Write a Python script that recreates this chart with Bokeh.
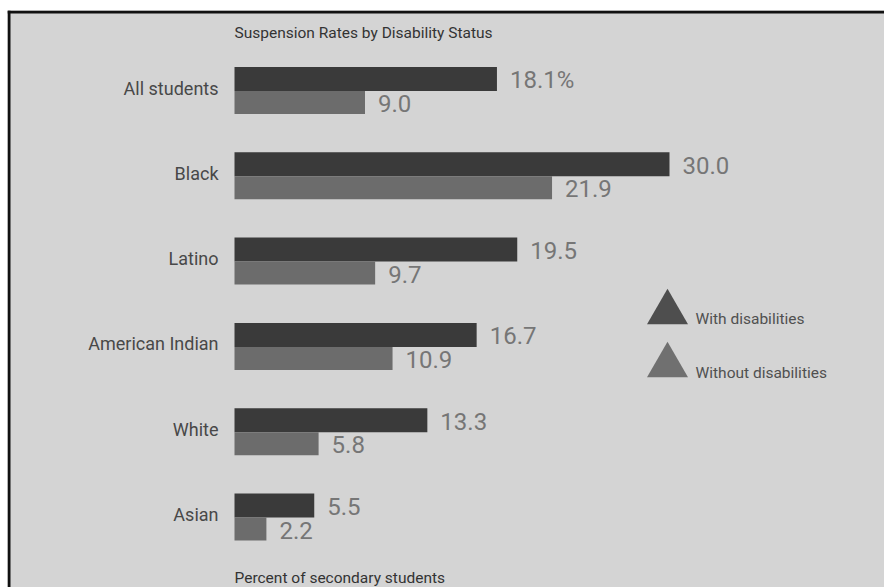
from bokeh.plotting import figure
from bokeh.models import Range1d, ColumnDataSource
from bokeh.core.properties import value
from bokeh.embed import file_html
from bokeh.resources import INLINE

# Suspension rates (percent of secondary students)
categories = ["All students", "Black", "Latino", "American Indian", "White", "Asian"]
with_disabilities = [18.1, 30.0, 19.5, 16.7, 13.3, 5.5]
without_disabilities = [9.0, 21.9, 9.7, 10.9, 5.8, 2.2]
series_names = ["With disabilities", "Without disabilities"]

W, H = 884, 587
LEFT, TOP = 7, 10            # white margin around the grey panel
X0_PX, PX_PER_PCT = 234, 14.5  # where 0% sits and how wide one percent is
Y0_PX, PX_PER_ROW = 90.5, 85.3 # centre of first group and group pitch

# data ranges that give the layout above on a full-size frame
x_range = Range1d((LEFT - X0_PX) / PX_PER_PCT, (W - X0_PX) / PX_PER_PCT)
y_range = Range1d((H - Y0_PX) / PX_PER_ROW, (TOP - Y0_PX) / PX_PER_ROW)


def px_x(px):
    return (px - X0_PX) / PX_PER_PCT


def px_y(px):
    return (px - Y0_PX) / PX_PER_ROW


p = figure(width=W, height=H, x_range=x_range, y_range=y_range,
           output_backend="svg", toolbar_location=None,
           min_border_left=LEFT, min_border_top=TOP,
           min_border_right=0, min_border_bottom=0)
p.axis.visible = False
p.grid.visible = False
p.outline_line_color = None
p.border_fill_color = "white"
p.background_fill_color = "#d4d4d4"

# heavy black rule along the top and left of the panel
p.quad(left=[px_x(LEFT)], right=[px_x(W)], top=[px_y(TOP)], bottom=[px_y(TOP + 3)],
       fill_color="#111111", line_color=None)
p.quad(left=[px_x(LEFT)], right=[px_x(LEFT + 3)], top=[px_y(TOP)], bottom=[px_y(H)],
       fill_color="#111111", line_color=None)

idx = list(range(len(categories)))
bar_w = 24 / PX_PER_ROW
bar_wo = 23 / PX_PER_ROW

src = ColumnDataSource(dict(
    idx=idx,
    cat=categories,
    with_d=with_disabilities,
    without_d=without_disabilities,
    y_with=[i - bar_w / 2 for i in idx],
    y_without=[i + bar_wo / 2 for i in idx],
    lab_with=[f"{v:.1f}%" if i == 0 else f"{v:.1f}" for i, v in enumerate(with_disabilities)],
    lab_without=[f"{v:.1f}" for v in without_disabilities],
    zero=[0] * len(categories),
))

WITH_COLOR = "#3a3a3a"
WITHOUT_COLOR = "#6c6c6c"

p.hbar(y="y_with", left="zero", right="with_d", height=bar_w, source=src,
       fill_color=WITH_COLOR, line_color=None)
p.hbar(y="y_without", left="zero", right="without_d", height=bar_wo, source=src,
       fill_color=WITHOUT_COLOR, line_color=None)

VALUE_FONT = value("Roboto")
p.text(x="with_d", y="y_with", text="lab_with", source=src, x_offset=13, y_offset=1,
       text_font=VALUE_FONT, text_font_size="24px", text_color="#767676",
       text_baseline="middle", text_align="left")
p.text(x="without_d", y="y_without", text="lab_without", source=src, x_offset=13, y_offset=1,
       text_font=VALUE_FONT, text_font_size="24px", text_color="#767676",
       text_baseline="middle", text_align="left")

# category names to the left of the bars
p.text(x="zero", y="idx", text="cat", source=src, x_offset=-16, y_offset=-3,
       text_font=value("Roboto"), text_font_size="18px", text_color="#484848",
       text_baseline="middle", text_align="right")

# title and footnote
p.text(x=[0], y=[px_y(32)], text=["Suspension Rates by Disability Status"],
       text_font=value("Roboto"), text_font_size="15.5px", text_color="#333333",
       text_baseline="middle", text_align="left")
p.text(x=[0], y=[px_y(577)], text=["Percent of secondary students"],
       text_font=value("Roboto"), text_font_size="15.5px", text_color="#333333",
       text_baseline="middle", text_align="left")

# legend: triangles with labels
p.scatter(x=[px_x(667), px_x(667)], y=[px_y(312), px_y(365)], marker="triangle",
          size=41, fill_color=["#4e4e4e", "#707070"], line_color=None)
p.text(x=[px_x(695), px_x(695)], y=[px_y(318), px_y(372)], text=series_names,
       text_font=value("Roboto"), text_font_size="15.5px", text_color="#505050",
       text_baseline="middle", text_align="left")

open("out.html", "w").write(file_html(p, INLINE))
